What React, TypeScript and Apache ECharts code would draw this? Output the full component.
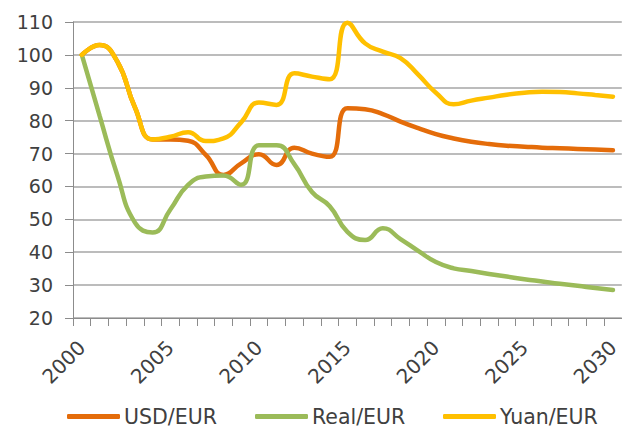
import React, { useEffect, useRef } from "react";
import * as echarts from "echarts";

const years: string[] = [];
for (let y = 2000; y <= 2030; y++) years.push(String(y));

const usdEur = [100, 103, 98, 84, 74.3, 74.3, 73.9, 69.6, 63.5, 67, 69.8, 66.5, 71.8, 70, 69, 83.8, 83.5, 82, 79.7, 77.7, 75.9, 74.6, 73.6, 72.9, 72.4, 72.1, 71.8, 71.6, 71.4, 71.2, 71];
const realEur = [100, 81.5, 63.5, 49, 46, 53, 60.5, 63, 63.3, 60.5, 72.5, 72.5, 66.8, 58.3, 54, 46.2, 43.7, 47.3, 44, 40.4, 37, 35.1, 34.3, 33.4, 32.6, 31.8, 31.1, 30.4, 29.8, 29.1, 28.5];
const yuanEur = [100, 103, 98, 84, 74.3, 75.1, 76.5, 73.8, 74.6, 79.5, 85.5, 84.8, 94.4, 93.4, 92.6, 109.8, 103.5, 101, 99, 94, 88.5, 85, 86.1, 87, 87.9, 88.5, 88.8, 88.7, 88.3, 87.8, 87.3];

const seriesNames = ["USD/EUR", "Real/EUR", "Yuan/EUR"];
const seriesColors = ["#E46C0A", "#9BBB59", "#FFC000"];

export default function App() {
  const ref = useRef<HTMLDivElement>(null);
  useEffect(() => {
    document.body.style.margin = "0";
    document.body.style.overflow = "hidden";
    const chart = echarts.init(ref.current!, null, { renderer: "svg" });
    const font = "DejaVu Sans";
    const data = [usdEur, realEur, yuanEur];
    chart.setOption({
      animation: false,
      textStyle: { fontFamily: font },
      grid: { left: 73, right: -8.4, top: 22, bottom: 110 },
      legend: {
        left: 67,
        top: 406,
        padding: 0,
        icon: "roundRect",
        itemWidth: 53,
        itemHeight: 5,
        itemGap: 31,
        textStyle: {
          fontFamily: font,
          fontSize: 20.5,
          lineHeight: 20,
          color: "#404040",
          width: 100,
          overflow: "none",
          padding: [0, 0, 0, -1],
        },
        data: seriesNames,
      },
      xAxis: {
        type: "category",
        data: years,
        boundaryGap: true,
        axisLine: { lineStyle: { color: "#8c8c8c", width: 1 } },
        axisTick: { show: true, interval: 0, length: 8, lineStyle: { color: "#8c8c8c" } },
        axisLabel: {
          interval: 4,
          rotate: 45,
          margin: 26,
          fontFamily: font,
          fontSize: 20,
          color: "#404040",
        },
      },
      yAxis: {
        type: "value",
        min: 20,
        max: 110,
        interval: 10,
        axisLine: { show: true, lineStyle: { color: "#8c8c8c", width: 1 } },
        axisTick: { show: true, length: 8, lineStyle: { color: "#8c8c8c" } },
        axisLabel: { margin: 20, fontFamily: font, fontSize: 19, color: "#404040" },
        splitLine: { lineStyle: { color: "#a6a6a6", width: 1.5 } },
      },
      series: seriesNames.map((n, i) => ({
        name: n,
        type: "line",
        data: data[i],
        smooth: 0.5,
        symbol: "none",
        color: seriesColors[i],
        lineStyle: { width: 4.5, color: seriesColors[i], cap: "round" },
        z: [2, 3, 4][i],
      })),
    });
    return () => chart.dispose();
  }, []);
  return <div ref={ref} style={{ width: 622, height: 428 }} />;
}
